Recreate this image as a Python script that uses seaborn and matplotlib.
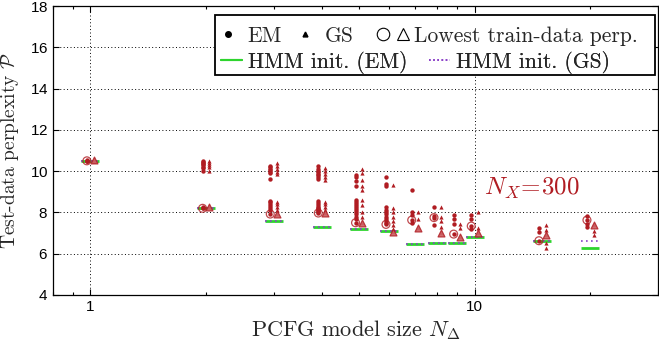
import numpy as np
import pandas as pd
import matplotlib
matplotlib.use("Agg")
import matplotlib.pyplot as plt
from matplotlib.lines import Line2D
from matplotlib.patches import Rectangle
from matplotlib.legend_handler import HandlerTuple
import seaborn as sns

# Model sizes (number of PCFG nonterminals)
sizes = [1, 2, 3, 4, 5, 6, 7, 8, 9, 10, 15, 20]

# Test-data perplexity of every EM run per model size
em_runs = [
    [10.52, 10.50, 10.49, 10.51],
    [10.50, 10.45, 10.40, 10.35, 10.30, 10.20, 10.15, 10.00, 8.25, 8.22, 8.20],
    [10.27, 10.20, 10.10, 10.05, 9.95, 9.90, 9.62, 8.57, 8.50, 8.40, 8.30, 8.20, 8.10, 7.92],
    [10.25, 10.10, 10.00, 9.95, 9.85, 9.80, 9.70, 9.60,
     8.55, 8.45, 8.35, 8.25, 8.20, 8.15, 8.10, 8.05, 8.00, 7.97],
    [9.80, 9.70, 9.50, 9.30, 8.60, 8.50, 8.40, 8.30, 8.20, 8.10, 8.00, 7.90, 7.80, 7.70, 7.50],
    [9.73, 9.40, 9.30, 8.28, 8.10, 8.00, 7.90, 7.80, 7.70, 7.60, 7.50, 7.42],
    [9.10, 8.03, 7.87, 7.63, 7.47],
    [8.28, 7.83, 7.75, 7.40],
    [7.87, 7.66, 7.44, 6.95],
    [7.87, 7.66, 7.34, 7.18],
    [7.23, 7.07, 6.63],
    [7.83, 7.63, 7.44, 7.30],
]

# Test-data perplexity of every GS run per model size
gs_runs = [
    [10.52, 10.50, 10.51],
    [10.50, 10.40, 10.30, 10.20, 10.00, 8.27],
    [10.38, 10.25, 10.10, 9.95, 9.86, 8.52, 8.40, 8.25, 8.12, 7.92],
    [10.14, 10.00, 9.85, 9.70, 9.57, 8.52, 8.40, 8.25, 8.10, 7.95],
    [10.10, 9.90, 9.55, 9.30, 9.10, 8.60, 8.35, 8.03, 7.80, 7.50],
    [9.33, 8.20, 8.00, 7.80, 7.60, 7.40, 7.20, 7.05],
    [8.03, 7.66, 7.23],
    [8.28, 7.80, 7.60, 7.30, 6.98],
    [7.44, 7.23, 6.82],
    [8.00, 7.23, 6.98],
    [7.39, 7.15, 6.90, 6.53, 6.30],
    [7.40, 7.10, 6.90],
]

# Run with the lowest train-data perplexity (its test perplexity)
em_best = [10.50, 8.20, 7.92, 7.97, 7.50, 7.42, 7.63, 7.75, 6.95, 7.34, 6.63, 7.63]
gs_best = [10.52, 8.27, 7.92, 7.95, 7.50, 7.05, 7.23, 6.98, 6.82, 6.98, 6.90, 7.40]

# HMM-initialised runs
hmm_em = [10.50, 8.22, 7.60, 7.28, 7.18, 7.10, 6.47, 6.50, 6.53, 6.82, 6.63, 6.30]
hmm_gs = [10.50, 8.22, 7.60, 7.28, 7.18, 7.10, 6.47, 6.50, 6.53, 6.82, 6.63, 6.63]

red = "#b01c22"
green = "#2ed42e"
purple = "#8a3fc8"

sns.set_theme(style="ticks")
plt.rcParams["font.family"] = ["Liberation Sans", "DejaVu Sans"]
plt.rcParams["mathtext.fontset"] = "cm"
plt.rcParams["axes.formatter.use_mathtext"] = True

em_df = pd.DataFrame(
    [(n * 0.98, v) for n, vals in zip(sizes, em_runs) for v in vals],
    columns=["size", "perp"])
gs_df = pd.DataFrame(
    [(n * 1.02, v) for n, vals in zip(sizes, gs_runs) for v in vals],
    columns=["size", "perp"])
best_df = pd.DataFrame({
    "em_x": np.array(sizes) * 0.98, "em": em_best,
    "gs_x": np.array(sizes) * 1.02, "gs": gs_best,
})

W, H = 659, 345
fig = plt.figure(figsize=(W / 100, H / 100), dpi=100)
AX_L, AX_B, AX_W, AX_H = 53, 50, 605, 289
ax = fig.add_axes([AX_L / W, AX_B / H, AX_W / W, AX_H / H])


def ax_xy(px, py):
    """Pixel position (from top-left of the figure) to axes coordinates."""
    return (px - AX_L) / AX_W, (H - AX_B - py) / AX_H


# HMM initialisation levels as short segments around each size
sz = np.array(sizes, dtype=float)
ax.hlines(hmm_em, sz / 1.055, sz * 1.055, colors=green, lw=2.0, zorder=2)
ax.hlines(hmm_gs, sz / 1.055, sz * 1.055, colors=purple, lw=1.2,
          linestyles=(0, (1, 2)), zorder=2.5)

sns.scatterplot(data=em_df, x="size", y="perp", ax=ax, marker="o", s=10,
                color=red, edgecolor=red, linewidth=0, zorder=3, legend=False)
sns.scatterplot(data=gs_df, x="size", y="perp", ax=ax, marker="^", s=9,
                color=red, edgecolor=red, linewidth=0, zorder=3, legend=False)
sns.scatterplot(data=best_df, x="em_x", y="em", ax=ax, marker="o", s=32,
                facecolor="none", edgecolor=red, linewidth=0.9, alpha=0.8,
                zorder=4, legend=False)
sns.scatterplot(data=best_df, x="gs_x", y="gs", ax=ax, marker="^", s=24,
                facecolor="#cf6a6d", edgecolor=red, linewidth=0.9, alpha=0.85,
                zorder=4, legend=False)

ax.set_xscale("log")
ax.set_xlim(0.8, 30)
ax.set_ylim(4, 18)
ax.set_yticks(range(4, 19, 2))
ax.set_xticks([1, 10])
ax.set_xticklabels(["1", "10"])
ax.xaxis.set_minor_locator(matplotlib.ticker.LogLocator(base=10, subs=np.arange(2, 10)))
ax.xaxis.set_minor_formatter(matplotlib.ticker.NullFormatter())
ax.tick_params(which="both", direction="in", top=True, right=True,
               labelsize=11, colors="black", width=0.8)
ax.tick_params(which="major", length=4)
ax.tick_params(which="minor", length=2.5)
ax.grid(True, which="major", color="black", linestyle=(0, (1, 2.5)), lw=0.7)
for sp in ax.spines.values():
    sp.set_color("black")
    sp.set_linewidth(0.9)

ax.set_xlabel(r"PCFG model size $N_\Delta$", family="cmr10", fontsize=16, labelpad=3)
ax.set_ylabel(r"Test-data perplexity $\mathcal{P}$", family="cmr10", fontsize=14,
              labelpad=6)

ax.text(10.6, 9.15, r"$N_X\!=\!300$", color=red, fontsize=18, ha="left", va="center")

# Legend: two rows inside a single frame
FS = 15.5
h_em = Line2D([], [], marker="o", ls="none", color="black", ms=4)
h_gs = Line2D([], [], marker="^", ls="none", color="black", ms=3.5)
h_c = Line2D([], [], marker="o", ls="none", mfc="none", mec="black", ms=9, mew=0.8)
h_t = Line2D([], [], marker="^", ls="none", mfc="none", mec="black", ms=9, mew=0.8)
h_hem = Line2D([], [], color=green, lw=1.5)
h_hgs = Line2D([], [], color=purple, lw=1.2, ls=(0, (1, 1.5)))

lkw = dict(frameon=False, prop={"family": "cmr10", "size": FS},
           borderpad=0, borderaxespad=0, loc="upper left")
legs = [
    ax.legend([h_em, h_gs], ["EM", "GS"], ncol=2, handlelength=1.0,
              handletextpad=0.4, columnspacing=0.6,
              bbox_to_anchor=ax_xy(217, 26), **lkw),
    ax.legend([(h_c, h_t)], ["Lowest train-data perp."], handlelength=1.15,
              handletextpad=0.4,
              handler_map={tuple: HandlerTuple(ndivide=None, pad=0.71)},
              bbox_to_anchor=ax_xy(381, 26), **lkw),
    ax.legend([h_hem, h_hgs], ["HMM init. (EM)", "HMM init. (GS)"], ncol=2,
              handlelength=0.98, handletextpad=0.28, columnspacing=1.0,
              bbox_to_anchor=ax_xy(221, 51), **lkw),
]
for lg in legs:
    ax.add_artist(lg)
    lg.set_zorder(6)
x0, y0 = ax_xy(215, 75)
x1, y1 = ax_xy(655, 15)
ax.add_patch(Rectangle((x0, y0), x1 - x0, y1 - y0, transform=ax.transAxes,
                       facecolor="white", edgecolor="black", lw=1.3, zorder=5))

fig.savefig("out.png", dpi=100)
